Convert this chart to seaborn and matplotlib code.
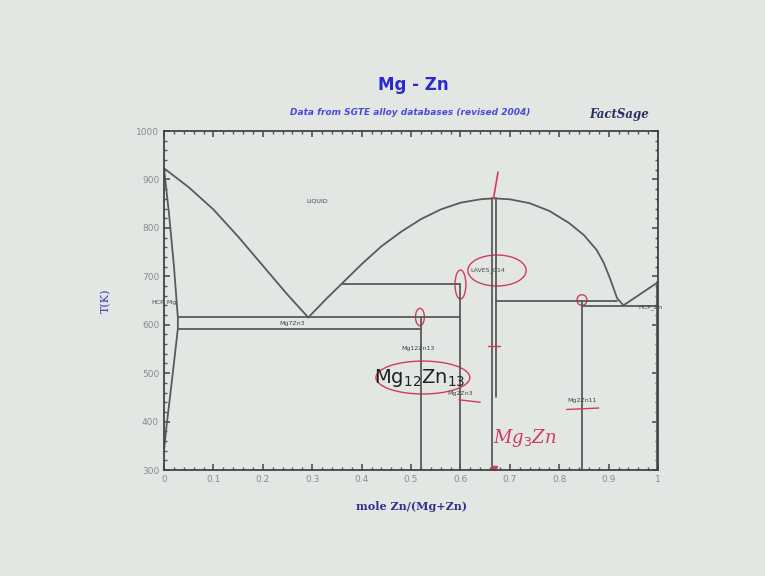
import numpy as np
import pandas as pd
import seaborn as sns
import matplotlib.pyplot as plt
from matplotlib.patches import Ellipse
from matplotlib.ticker import MultipleLocator

# phase boundaries (x = mole Zn, T in K)
liq_mg_x = [0, 0.05, 0.1, 0.15, 0.2, 0.25, 0.292]
liq_mg_T = [923, 884, 838, 782, 722, 662, 615]

dome_x = [0.292, 0.33, 0.36, 0.40, 0.44, 0.48, 0.52, 0.56, 0.60, 0.64, 0.667,
          0.70, 0.74, 0.78, 0.82, 0.85, 0.876, 0.89, 0.903, 0.917, 0.93]
dome_T = [615, 655, 685, 725, 762, 792, 818, 838, 852, 859, 861,
          859, 851, 835, 810, 785, 754, 728, 695, 655, 640]

liq_zn_x = [0.93, 1.0]
liq_zn_T = [640, 688]

sol_mg_x = [0, 0.01, 0.02, 0.028, 0.028]
sol_mg_T = [923, 830, 722, 615, 592]
solvus_mg_x = [0.028, 0.02, 0.012, 0.005, 0]
solvus_mg_T = [592, 520, 450, 390, 340]

# invariant lines: (x_start, x_end, T)
horiz = [(0.028, 0.6, 615), (0.028, 0.52, 592), (0.36, 0.6, 685),
         (0.671, 0.917, 650), (0.846, 1.0, 638)]
# compounds: (x, T_low, T_high)
verts = [(0.52, 300, 615), (0.6, 300, 685), (0.664, 300, 861),
         (0.671, 450, 861), (0.846, 300, 650), (0.997, 300, 688)]

labels = [("LIQUID", 0.31, 855), ("LAVES_C14", 0.655, 712), ("HCP_Mg", 0.0, 647),
          ("Mg7Zn3", 0.26, 603), ("Mg12Zn13", 0.515, 550), ("Mg2Zn3", 0.6, 458),
          ("Mg2Zn11", 0.846, 443), ("HCP_Zn", 0.985, 636)]

rows = []
def add(seg, xs, ts):
    for a, b in zip(xs, ts):
        rows.append((seg, a, b))

add("liq_mg", liq_mg_x, liq_mg_T)
add("dome", dome_x, dome_T)
add("liq_zn", liq_zn_x, liq_zn_T)
add("sol_mg", sol_mg_x, sol_mg_T)
add("solvus_mg", solvus_mg_x, solvus_mg_T)
for i, (x0, x1, t) in enumerate(horiz):
    add("h%d" % i, [x0, x1], [t, t])
for i, (x, t0, t1) in enumerate(verts):
    add("v%d" % i, [x, x], [t0, t1])
df = pd.DataFrame(rows, columns=["seg", "x", "T"])

bg = "#e2e7e4"
sns.set_theme(style="ticks")
plt.rcParams['font.family'] = ['DejaVu Sans']
fig = plt.figure(figsize=(7.65, 5.76), dpi=100, facecolor=bg)
ax = fig.add_axes([0.2144, 0.184, 0.6458, 0.5885])
ax.set_facecolor(bg)

sns.lineplot(data=df, x="x", y="T", units="seg", estimator=None, sort=False,
             color="#5a5a5a", linewidth=1.3, ax=ax)

for txt, x, t in labels:
    ax.text(x, t, txt, fontsize=4.5, color="#444444", ha="center", va="center")

ax.set_xlim(0, 1)
ax.set_ylim(300, 1000)
ax.xaxis.set_minor_locator(MultipleLocator(0.02))
ax.yaxis.set_major_locator(MultipleLocator(100))
ax.yaxis.set_minor_locator(MultipleLocator(20))
ax.set_xticks(np.arange(0, 1.01, 0.1))
ax.set_xticklabels(["0", "0.1", "0.2", "0.3", "0.4", "0.5", "0.6", "0.7", "0.8", "0.9", "1"])
ax.tick_params(which="both", direction="in", top=True, right=True, colors="#555555",
               labelcolor="#8a8a8a", labelsize=6.5)
ax.tick_params(which="major", length=4)
ax.tick_params(which="minor", length=2)
for s in ax.spines.values():
    s.set_color("#444444")
    s.set_linewidth(1.3)
ax.set_xlabel("mole Zn/(Mg+Zn)", family="DejaVu Serif", fontweight="bold",
              fontsize=8, color="#30308a", labelpad=12)
ax.set_ylabel("T(K)", family="DejaVu Serif", fontsize=8, color="#3a3ac0", labelpad=18)

fig.text(0.54, 0.852, "Mg - Zn", ha="center", va="center", fontsize=12,
         fontweight="bold", color="#2a2ad0")
fig.text(0.536, 0.804, "Data from SGTE alloy databases (revised 2004)", ha="center",
         va="center", fontsize=6.5, style="italic", fontweight="bold", color="#4a4ad8")
fig.text(0.81, 0.802, "FactSage", ha="center", va="center", fontsize=8.5,
         fontweight="bold", style="italic", color="#2a3060", family="DejaVu Serif")

# overlaid lecture annotations
ax.text(0.518, 491, "Mg$_{12}$Zn$_{13}$", fontsize=14, ha="center", va="center", color="#222222")
red = "#d23a5e"
for cx, ct, w, h in [(0.524, 491, 0.19, 68), (0.674, 712, 0.118, 64), (0.6, 683, 0.022, 60),
                     (0.518, 616, 0.018, 36), (0.846, 651, 0.02, 22)]:
    ax.add_patch(Ellipse((cx, ct), w, h, fill=False, edgecolor=red, lw=1.0))
ax.plot([0.667, 0.676], [861, 915], color=red, lw=1.2)
ax.plot([0.655, 0.68], [556, 556], color=red, lw=1.0)
ax.plot([0.597, 0.64], [445, 440], color=red, lw=1.0)
ax.plot([0.815, 0.88], [425, 428], color=red, lw=1.0)
ax.plot([0.667], [302], marker="v", color=red, markersize=5)
ax.text(0.73, 366, "Mg$_3$Zn", fontsize=13, style="italic", color=red, ha="center",
        va="center", family="DejaVu Serif")

fig.savefig("out.png", dpi=100, facecolor=bg)
